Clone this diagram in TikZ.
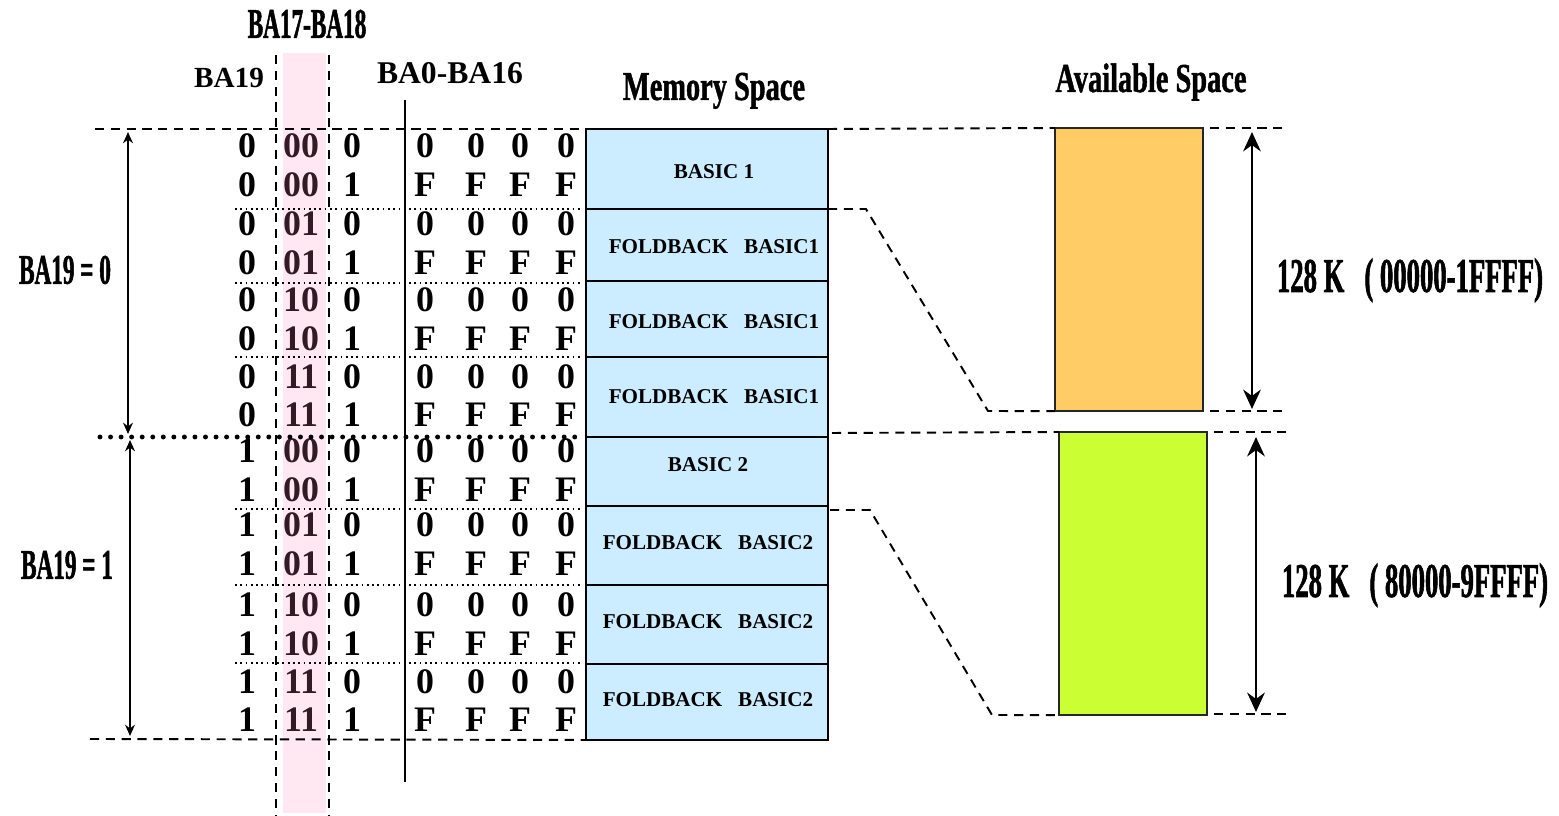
\documentclass[tikz,border=0pt]{standalone}
\usepackage{fontspec}
\setmainfont{Liberation Serif}
\newfontfamily\narrowfont[FakeStretch=0.55,FakeBold=1.2]{Liberation Serif}
\newfontfamily\headfont[FakeStretch=0.69,FakeBold=1]{Liberation Serif}
\usetikzlibrary{arrows.meta}
\definecolor{membg}{HTML}{CCECFF}
\definecolor{banka}{HTML}{FFCC66}
\definecolor{bankb}{HTML}{CCFF33}
\definecolor{selbg}{HTML}{FFE8F1}
\definecolor{seltext}{HTML}{331A24}
\tikzset{
    bit/.style={font=\fontsize{10.2}{12}\selectfont\bfseries, inner sep=0pt},
    plain/.style={font=\fontsize{#1}{#1}\selectfont\bfseries, inner sep=0pt},
    narrow/.style={font=\fontsize{#1}{#1}\narrowfont\bfseries, inner sep=0pt},
    headlbl/.style={font=\fontsize{11.7}{12}\headfont\bfseries, inner sep=0pt},
    celltext/.style={font=\fontsize{6}{7}\selectfont\bfseries, inner sep=0pt},
    memcell/.style={draw, fill=membg, line width=0.6pt},
    bank/.style={draw=black!85, line width=0.7pt, inner sep=0pt, outer sep=0pt, anchor=north west, minimum width=1.48cm, minimum height=2.83cm},
    guide/.style={dash pattern=on 2.6pt off 1.9pt, line width=0.55pt},
    rowsep/.style={densely dotted, line width=0.5pt},
    span/.style={{Stealth[length=5.5pt,width=5pt]}-{Stealth[length=5.5pt,width=5pt]}, line width=0.8pt},
    halfspan/.style={{Stealth[length=3.2pt,width=2.8pt]}-{Stealth[length=3.2pt,width=2.8pt]}, line width=0.5pt}
}

\begin{document}
\begin{tikzpicture}[x=0.01cm,y=-0.01cm]
\useasboundingbox (0,0) rectangle (1559,816);
% BA17-BA18 column band and its guides
\fill[selbg] (283,53) rectangle (326,813);
\foreach \x/\p in {276/gl,329/gr}{
    \coordinate (\p-t) at (\x,55);
    \coordinate (\p-b) at (\x,816);
    \draw[guide] (\p-t) -- (\p-b);
}
\coordinate (vl-t) at (405,100);
\coordinate (vl-b) at (405,782);
\draw[line width=0.6pt] (vl-t) -- (vl-b);

\node[narrow=12] (hsel) at (307,24) {BA17-BA18};
\node[plain=8.3] (hb19) at (229,78) {BA19};
\node[plain=9] (hlow) at (450,73) {BA0-BA16};
\node[headlbl, anchor=base] (hmem) at (714,100) {Memory Space};
\node[headlbl, anchor=base] (havail) at (1151,92) {Available Space};

% address bits
\foreach \y/\a/\b/\c/\d [count=\i] in {146/0/00/0/0, 185/0/00/1/F, 224/0/01/0/0, 263/0/01/1/F, 300/0/10/0/0, 339/0/10/1/F, 377/0/11/0/0, 415/0/11/1/F, 451/1/00/0/0, 490/1/00/1/F, 525/1/01/0/0, 564/1/01/1/F, 605/1/10/0/0, 644/1/10/1/F, 682/1/11/0/0, 720/1/11/1/F}{
    \node[bit] (b19-\i) at (247,\y) {\a};
    \node[bit, text=seltext] (bsel-\i) at (301,\y) {\b};
    \node[bit] (b16-\i) at (352,\y) {\c};
    \foreach \x [count=\j] in {425,476,520,566}
        \node[bit] (blo-\i-\j) at (\x,\y) {\d};
}
\foreach \y in {209,283,357,509,585,663}{
    \coordinate (sl-\y) at (235,\y);
    \coordinate (sr-\y) at (582,\y);
    \draw[rowsep] (sl-\y) -- (sr-\y);
}
\coordinate (mid-l) at (100,437);
\coordinate (mid-r) at (580,437);
\draw[line width=1.4pt, dash pattern=on 0pt off 3pt, line cap=round] (mid-l) -- (mid-r);

% memory space
\foreach \t/\b/\x/\y/\txt [count=\k] in {129/209/714/172/BASIC 1, 209/281/714/247/FOLDBACK~~~BASIC1, 281/357/714/322/FOLDBACK~~~BASIC1, 357/437/714/397/FOLDBACK~~~BASIC1, 437/506/708/465/BASIC 2, 506/585/708/543/FOLDBACK~~~BASIC2, 585/664/708/622/FOLDBACK~~~BASIC2, 664/740/708/700/FOLDBACK~~~BASIC2}{
    \coordinate (m\k-nw) at (586,\t);
    \coordinate (m\k-ne) at (828,\t);
    \coordinate (m\k-sw) at (586,\b);
    \coordinate (m\k-se) at (828,\b);
    \draw[memcell] (m\k-nw) rectangle (m\k-se);
    \node[celltext] (mem\k) at (\x,\y) {\txt};
}

% available space
\node[bank, fill=banka] (avail1) at (1055,128) {};
\node[bank, fill=bankb] (avail2) at (1059,432) {};

\coordinate (top-l) at (95,129);
\coordinate (bot-l) at (90,739);
\draw[guide] (top-l) -- (m1-nw);
\draw[guide] (bot-l) -- (m8-sw);
\draw[guide] (m1-ne) -- (avail1.north west);
\coordinate (f1a) at (866,209);
\coordinate (f1b) at (988,411);
\draw[guide] (m2-ne) -- (f1a) -- (f1b) -- (avail1.south west);
\coordinate (g2) at (832,433);
\draw[guide] (g2) -- (avail2.north west);
\coordinate (f2s) at (830,510);
\coordinate (f2a) at (870,510);
\coordinate (f2b) at (992,715);
\draw[guide] (f2s) -- (f2a) -- (f2b) -- (avail2.south west);

\foreach \y/\l/\r/\p in {128/1210/1285/r1t, 411/1210/1285/r1b, 432/1214/1290/r2t, 714/1214/1290/r2b}{
    \coordinate (\p-l) at (\l,\y);
    \coordinate (\p-r) at (\r,\y);
    \draw[guide] (\p-l) -- (\p-r);
}
\coordinate (a1-t) at (1252,132);
\coordinate (a1-b) at (1252,409);
\draw[span] (a1-t) -- (a1-b);
\coordinate (a2-t) at (1256,437);
\coordinate (a2-b) at (1256,712);
\draw[span] (a2-t) -- (a2-b);
\node[narrow=13.8, anchor=base] (size1) at (1410,292) {128 K~~~( 00000-1FFFF)};
\node[narrow=13.8, anchor=base] (size2) at (1415,597) {128 K~~~( 80000-9FFFF)};

% BA19 halves
\coordinate (h0-t) at (128,132);
\coordinate (h0-b) at (128,434);
\draw[halfspan] (h0-t) -- (h0-b);
\coordinate (h1-t) at (130,440);
\coordinate (h1-b) at (130,736);
\draw[halfspan] (h1-t) -- (h1-b);
\node[narrow=12] (half0) at (65,270) {BA19 = 0};
\node[narrow=12] (half1) at (67,565) {BA19 = 1};
\end{tikzpicture}
\end{document}
